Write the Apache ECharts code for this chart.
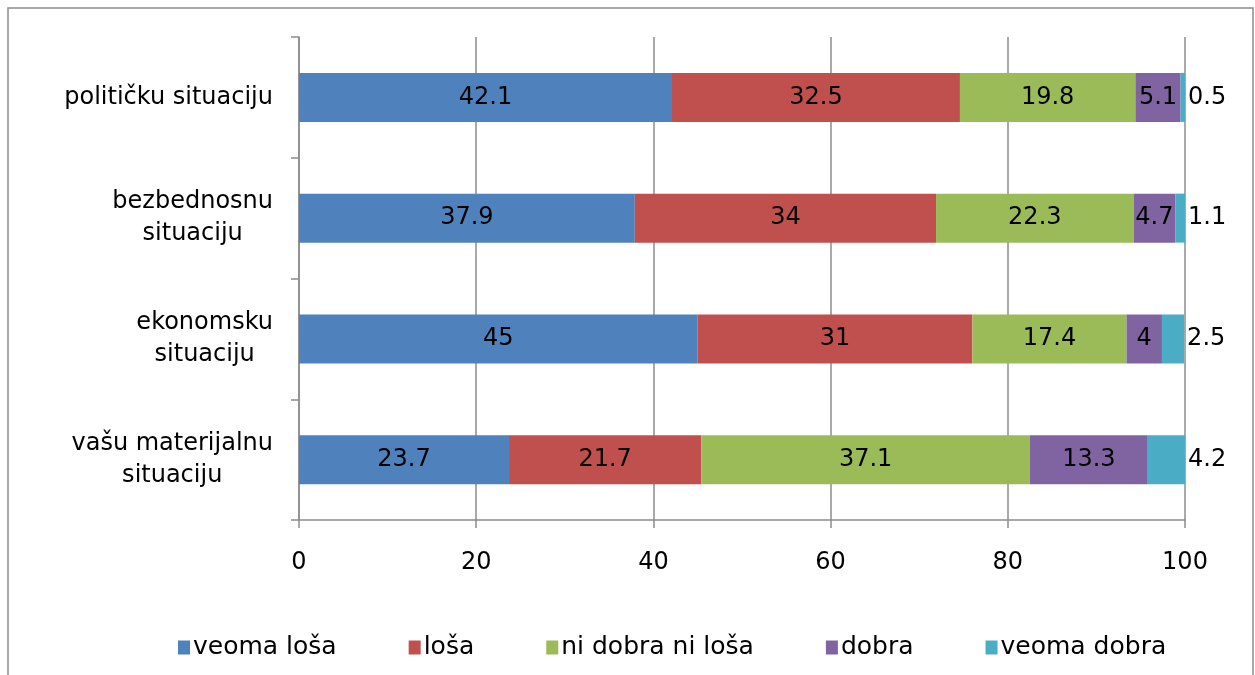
<!DOCTYPE html>
<html>
<head>
<meta charset="utf-8">
<script src="https://cdn.jsdelivr.net/npm/echarts@6/dist/echarts.min.js"></script>
<style>
  html, body { margin: 0; padding: 0; background: #fff; }
  #chart { width: 1255px; height: 675px; }
</style>
</head>
<body>
<div id="chart"></div>
<script>
// categories, top to bottom
const categories = ['političku situaciju', 'bezbednosnu\nsituaciju', 'ekonomsku\nsituaciju', 'vašu materijalnu\nsituaciju']
const seriesNames = ['veoma loša', 'loša', 'ni dobra ni loša', 'dobra', 'veoma dobra']
const veomaLosa = [42.1, 37.9, 45, 23.7]
const losa = [32.5, 34, 31, 21.7]
const niDobraNiLosa = [19.8, 22.3, 17.4, 37.1]
const dobra = [5.1, 4.7, 4, 13.3]
const veomaDobra = [0.5, 1.1, 2.5, 4.2]
const xTicks = [0, 20, 40, 60, 80, 100]

const colors = ['#4F81BD', '#C0504D', '#9BBB59', '#8064A2', '#4BACC6']
const font = 'DejaVu Sans'
const fs = 24
const values = [veomaLosa, losa, niDobraNiLosa, dobra, veomaDobra]

const chart = echarts.init(document.getElementById('chart'))
chart.setOption({
  animation: false,
  color: colors,
  textStyle: { fontFamily: font },
  graphic: [
    {
      type: 'rect',
      shape: { x: 8, y: 8, width: 1245, height: 700 },
      style: { fill: 'none', stroke: '#8c8c8c', lineWidth: 1.5 },
      silent: true
    }
  ],
  legend: {
    bottom: 10,
    left: 173,
    icon: 'rect',
    itemWidth: 12,
    itemHeight: 14,
    itemGap: 72,
    selectedMode: false,
    textStyle: { fontFamily: font, fontSize: 25, color: '#000', padding: [0, 0, 0, -2] },
    data: seriesNames
  },
  grid: {
    left: 299,
    right: 70,
    top: 37,
    bottom: 155,
    containLabel: false
  },
  xAxis: {
    type: 'value',
    min: xTicks[0],
    max: xTicks[xTicks.length - 1],
    interval: 20,
    axisLine: { show: true, lineStyle: { color: '#8c8c8c', width: 1.5 } },
    axisTick: { show: true, length: 8, lineStyle: { color: '#8c8c8c', width: 1.5 } },
    splitLine: { show: true, lineStyle: { color: '#8c8c8c', width: 1.5 } },
    axisLabel: { fontFamily: font, fontSize: fs, color: '#000', margin: 31 }
  },
  yAxis: {
    type: 'category',
    inverse: true,
    data: categories,
    axisLine: { show: true, lineStyle: { color: '#8c8c8c', width: 1.5 } },
    axisTick: { show: true, length: 8, lineStyle: { color: '#8c8c8c', width: 1.5 } },
    axisLabel: {
      fontFamily: font,
      fontSize: fs,
      color: '#000',
      margin: 26,
      lineHeight: 32,
      formatter: function (v) {
        return v.split('\n').map(s => '{c|' + s + '}').join('\n')
      },
      rich: {
        c: { align: 'center', fontFamily: font, fontSize: fs, color: '#000', lineHeight: 32 }
      }
    }
  },
  series: seriesNames.map((name, i) => ({
    name: name,
    type: 'bar',
    stack: 'total',
    barWidth: 49,
    data: values[i],
    label: {
      show: true,
      position: i === 4 ? 'right' : 'inside',
      distance: 3,
      fontFamily: font,
      fontSize: fs,
      color: '#000'
    }
  }))
})
</script>
</body>
</html>
